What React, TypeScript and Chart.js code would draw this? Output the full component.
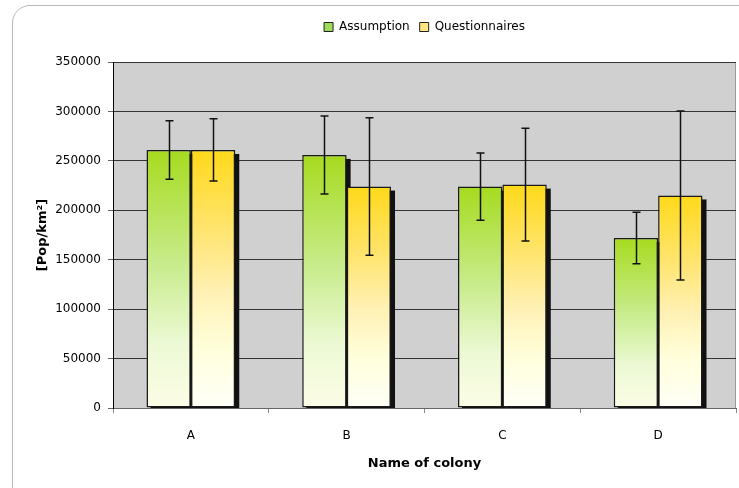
import React, { useEffect, useRef } from 'react';
import { Chart, registerables } from 'chart.js';

Chart.register(...registerables);

const categories = ['A', 'B', 'C', 'D'];
const seriesNames = ['Assumption', 'Questionnaires'];
const assumption = [261000, 256000, 224000, 172000];
const assumptionErr = [29500, 39500, 34000, 26000];
const questionnaires = [261000, 224000, 226000, 215000];
const questionnairesErr = [31500, 69500, 57000, 85500];
const yMin = 0;
const yMax = 350000;
const yStep = 50000;
const xTitle = 'Name of colony';
const yTitle = '[Pop/km²]';

const FONT = 'DejaVu Sans';

const greenStops: [number, string][] = [
  [0, '#a6db1f'],
  [0.45, '#c9ec8e'],
  [0.75, '#ecf9d4'],
  [1, '#fcfde6'],
];
const yellowStops: [number, string][] = [
  [0, '#ffd91a'],
  [0.3, '#ffe46c'],
  [0.55, '#fff1b4'],
  [0.78, '#ffffdd'],
  [1, '#fffff8'],
];

function gradientFill(stops: [number, string][], fallback: string) {
  return (ctx: any) => {
    if (ctx.type !== 'data') return fallback;
    const chart = ctx.chart;
    if (!chart.chartArea || !chart.scales || !chart.scales.y) return fallback;
    const ys = chart.scales.y;
    const top = ys.getPixelForValue(ctx.raw as number);
    const base = ys.getPixelForValue(0);
    if (!isFinite(top) || !isFinite(base) || top === base) return fallback;
    const g = chart.ctx.createLinearGradient(0, top, 0, base);
    stops.forEach(([o, c]) => g.addColorStop(o, c));
    return g;
  };
}

const plotBackground = {
  id: 'plotBackground',
  beforeDraw(chart: any) {
    const { ctx, chartArea } = chart;
    if (!chartArea) return;
    ctx.save();
    ctx.fillStyle = '#d0d0d0';
    ctx.fillRect(chartArea.left, chartArea.top, chartArea.right - chartArea.left, chartArea.bottom - chartArea.top);
    ctx.strokeStyle = '#9a9a9a';
    ctx.lineWidth = 1;
    ctx.beginPath();
    ctx.moveTo(chartArea.right - 0.5, chartArea.top);
    ctx.lineTo(chartArea.right - 0.5, chartArea.bottom);
    ctx.stroke();
    ctx.restore();
  },
};

const centerLegend = {
  id: 'centerLegend',
  afterLayout(chart: any) {
    const lg = chart.legend;
    const ca = chart.chartArea;
    if (!lg || !ca) return;
    lg.left = ca.left;
    lg.right = ca.right;
    lg.width = ca.right - ca.left;
  },
};

const barShadow = {
  id: 'barShadow',
  beforeDatasetsDraw(chart: any) {
    const { ctx, chartArea } = chart;
    ctx.save();
    ctx.beginPath();
    ctx.rect(chartArea.left, chartArea.top, chartArea.right - chartArea.left, chartArea.bottom - chartArea.top);
    ctx.clip();
    ctx.fillStyle = '#111';
    chart.data.datasets.forEach((_: any, i: number) => {
      chart.getDatasetMeta(i).data.forEach((bar: any) => {
        const p = bar.getProps(['x', 'y', 'base', 'width'], true);
        ctx.fillRect(p.x - p.width / 2 + 4, p.y + 4, p.width, p.base - p.y);
      });
    });
    ctx.restore();
  },
};

const errorBars = {
  id: 'errorBars',
  afterDatasetsDraw(chart: any) {
    const { ctx } = chart;
    const ys = chart.scales.y;
    ctx.save();
    ctx.strokeStyle = '#111';
    ctx.lineWidth = 1.5;
    chart.data.datasets.forEach((ds: any, i: number) => {
      const errs: number[] = ds.errors || [];
      chart.getDatasetMeta(i).data.forEach((bar: any, j: number) => {
        const v = ds.data[j] as number;
        const e = errs[j];
        if (e == null) return;
        const p = bar.getProps(['x'], true);
        const x = Math.round(p.x) + 0.5;
        const yHi = ys.getPixelForValue(v + e);
        const yLo = ys.getPixelForValue(v - e);
        ctx.beginPath();
        ctx.moveTo(x, yHi);
        ctx.lineTo(x, yLo);
        ctx.moveTo(x - 4, yHi);
        ctx.lineTo(x + 4, yHi);
        ctx.moveTo(x - 4, yLo);
        ctx.lineTo(x + 4, yLo);
        ctx.stroke();
      });
    });
    ctx.restore();
  },
};

export default function App() {
  const ref = useRef<HTMLCanvasElement | null>(null);

  useEffect(() => {
    if (!ref.current) return;
    const chart = new Chart(ref.current, {
      type: 'bar',
      data: {
        labels: categories,
        datasets: [
          {
            label: seriesNames[0],
            data: assumption,
            errors: assumptionErr,
            backgroundColor: gradientFill(greenStops, '#a6db1f'),
            borderColor: '#1a1a1a',
            borderWidth: 1.5,
            borderSkipped: false,
            categoryPercentage: 0.57,
            barPercentage: 1.0,
          } as any,
          {
            label: seriesNames[1],
            data: questionnaires,
            errors: questionnairesErr,
            backgroundColor: gradientFill(yellowStops, '#ffd91a'),
            borderColor: '#1a1a1a',
            borderWidth: 1.5,
            borderSkipped: false,
            categoryPercentage: 0.57,
            barPercentage: 1.0,
          } as any,
        ],
      },
      options: {
        responsive: false,
        animation: false,
        devicePixelRatio: 1,
        layout: { padding: { top: 11, right: 3, bottom: 0, left: 0 } },
        plugins: {
          tooltip: { enabled: false },
          title: {
            display: true,
            text: '',
            weight: 500,
            font: { size: 1 },
            padding: { top: 0, bottom: 17.8 },
          } as any,
          legend: {
            display: true,
            position: 'top',
            align: 'center',
            labels: {
              boxWidth: 9,
              boxHeight: 9,
              padding: 10,
              color: '#000',
              font: { family: FONT, size: 12 },
              generateLabels: () => [
                { text: seriesNames[0], fillStyle: '#9ddc5a', strokeStyle: '#222', lineWidth: 1, hidden: false, datasetIndex: 0 },
                { text: seriesNames[1], fillStyle: '#ffe680', strokeStyle: '#222', lineWidth: 1, hidden: false, datasetIndex: 1 },
              ],
            },
          },
        },
        scales: {
          x: {
            grid: {
              offset: true,
              drawOnChartArea: false,
              drawTicks: true,
              tickLength: 5,
              tickColor: '#888',
            },
            border: { display: true, color: '#666', width: 1 },
            ticks: { color: '#000', font: { family: FONT, size: 12 }, padding: 16 },
            title: {
              display: true,
              text: xTitle,
              color: '#000',
              font: { family: FONT, size: 13, weight: 'bold' },
              padding: { top: 0, bottom: 17 },
            },
            afterFit: (s: any) => {
              s.height = 80;
            },
          },
          y: {
            min: yMin,
            max: yMax,
            ticks: {
              stepSize: yStep,
              color: '#000',
              font: { family: FONT, size: 12 },
              padding: 7,
              callback: (v: any) => String(v),
            },
            grid: {
              color: '#333',
              lineWidth: 1,
              drawTicks: true,
              tickLength: 5,
              tickColor: '#666',
            },
            border: { display: true, color: '#000', width: 1 },
            title: {
              display: true,
              text: yTitle,
              color: '#000',
              font: { family: FONT, size: 13, weight: 'bold' },
              padding: { top: 35, bottom: 0 },
            },
            afterFit: (s: any) => {
              s.width = 113;
            },
          },
        },
      },
      plugins: [plotBackground, centerLegend, barShadow, errorBars],
    } as any);
    return () => chart.destroy();
  }, []);

  return (
    <div style={{ position: 'absolute', left: 0, top: 0, width: 739, height: 488, overflow: 'hidden', background: '#fff' }}>
      <div
        style={{
          position: 'absolute',
          left: 12,
          top: 5,
          width: 800,
          height: 600,
          border: '1px solid #b8b8b8',
          borderRadius: 18,
          boxSizing: 'border-box',
        }}
      />
      <canvas ref={ref} width={739} height={488} style={{ position: 'absolute', left: 0, top: 0, width: 739, height: 488 }} />
    </div>
  );
}
